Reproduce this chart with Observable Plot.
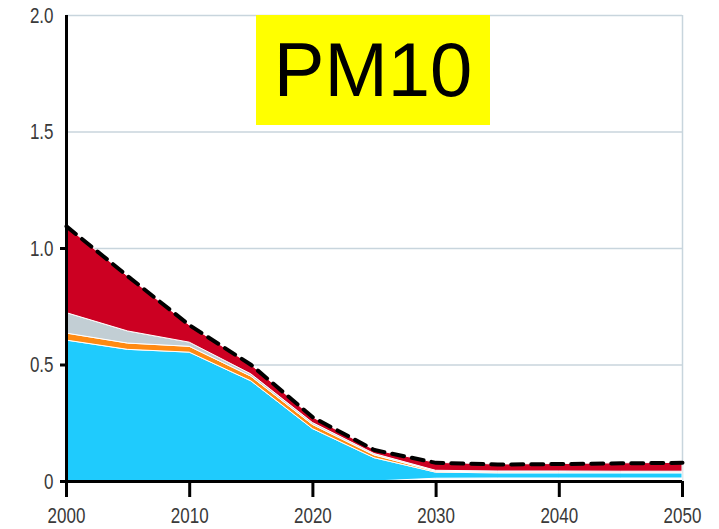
<!DOCTYPE html>
<html><head><meta charset="utf-8">
<script src="https://cdn.jsdelivr.net/npm/d3@7"></script>
<script src="https://cdn.jsdelivr.net/npm/@observablehq/plot@0.6"></script>
<style>
body{margin:0;background:#fff;}
#wrap{position:relative;width:719px;height:529px;overflow:hidden;}
#title{position:absolute;z-index:2;left:256px;top:15px;width:234px;height:110px;background:#ffff00;font-family:"Liberation Sans",Arial,sans-serif;font-size:76px;line-height:110px;text-align:center;color:#000;}
</style></head>
<body><div id="wrap"><div id="title">PM10</div></div>
<script>
const years     = [2000, 2005, 2010, 2015, 2020, 2025, 2030, 2035, 2040, 2045, 2050];
const layerBase = [0,     0,     0,     0,     0,     0,     0.012, 0.013, 0.013, 0.013, 0.013];
const layerA    = [0.605, 0.565, 0.553, 0.430, 0.225, 0.100, 0.026, 0.022, 0.022, 0.022, 0.022];
const layerB    = [0.030, 0.027, 0.025, 0.020, 0.018, 0.012, 0.004, 0.004, 0.004, 0.003, 0.003];
const layerC    = [0.088, 0.052, 0.018, 0.010, 0.008, 0.006, 0.004, 0.004, 0.004, 0.004, 0.004];
const layerD    = [0.372, 0.236, 0.074, 0.040, 0.024, 0.017, 0.034, 0.030, 0.032, 0.036, 0.038];
const total     = [1.095, 0.880, 0.670, 0.500, 0.275, 0.135, 0.080, 0.073, 0.075, 0.078, 0.080];
const yTicks = [0, 0.5, 1.0, 1.5, 2.0];
const xTicks = [2000, 2010, 2020, 2030, 2040, 2050];

const layerNames  = ["base", "A", "B", "C", "D"];
const layerColors = ["#ffffff", "#1fcbfd", "#ff8a12", "#c2ced4", "#cc0022"];
const layerValues = [layerBase, layerA, layerB, layerC, layerD];

const long = [];
layerNames.forEach((name, i) => years.forEach((yr, j) => long.push({year: yr, layer: name, value: layerValues[i][j]})));
const totals = years.map((yr, j) => ({year: yr, total: total[j]}));

const labelFont = '"Liberation Sans",Arial,sans-serif';

const chart = Plot.plot({
  width: 719, height: 529,
  marginLeft: 66, marginRight: 37, marginTop: 15, marginBottom: 48,
  style: {background: "#fff", overflow: "visible"},
  x: {domain: [2000, 2050], label: null},
  y: {domain: [0, 2], label: null},
  color: {domain: layerNames, range: layerColors},
  marks: [
    Plot.ruleY(yTicks.filter(d => d > 0), {stroke: "#c8d5dd", strokeWidth: 1.5}),
    Plot.ruleX([2050], {stroke: "#c8d5dd", strokeWidth: 1.5}),
    Plot.areaY(long, {x: "year", y: "value", fill: "layer", order: layerNames, stroke: "white", strokeWidth: 1}),
    Plot.lineY(totals, {x: "year", y: "total", stroke: "black", strokeWidth: 4, strokeDasharray: "12,8"}),
    Plot.ruleX([2000], {stroke: "black", strokeWidth: 3}),
    Plot.ruleY([0], {stroke: "black", strokeWidth: 3}),
    Plot.axisY({ticks: yTicks, tickSize: 0, tickPadding: 13, tickFormat: d => d === 0 ? "0" : d.toFixed(1),
      fontSize: 17, fontFamily: labelFont, fill: "#3a3a3a", label: null}),
    Plot.axisY({ticks: [0, 0.5, 1.0], tickSize: 6, strokeWidth: 3, stroke: "black", tickFormat: () => "", label: null}),
    Plot.axisX({ticks: xTicks, tickSize: 16, tickPadding: 10, strokeWidth: 3, stroke: "black", tickFormat: d => String(d),
      fontSize: 17, fontFamily: labelFont, fill: "#3a3a3a", label: null})
  ]
});
chart.querySelectorAll('g[aria-label="x-axis tick label"] text, g[aria-label="y-axis tick label"] text').forEach(t => {
  const tr = t.getAttribute("transform") || "";
  t.setAttribute("transform", tr + " scale(1,1.32)");
});
chart.style.position = "absolute";
chart.style.left = "0px";
chart.style.top = "0px";
document.getElementById("wrap").appendChild(chart);
</script>
</body></html>
